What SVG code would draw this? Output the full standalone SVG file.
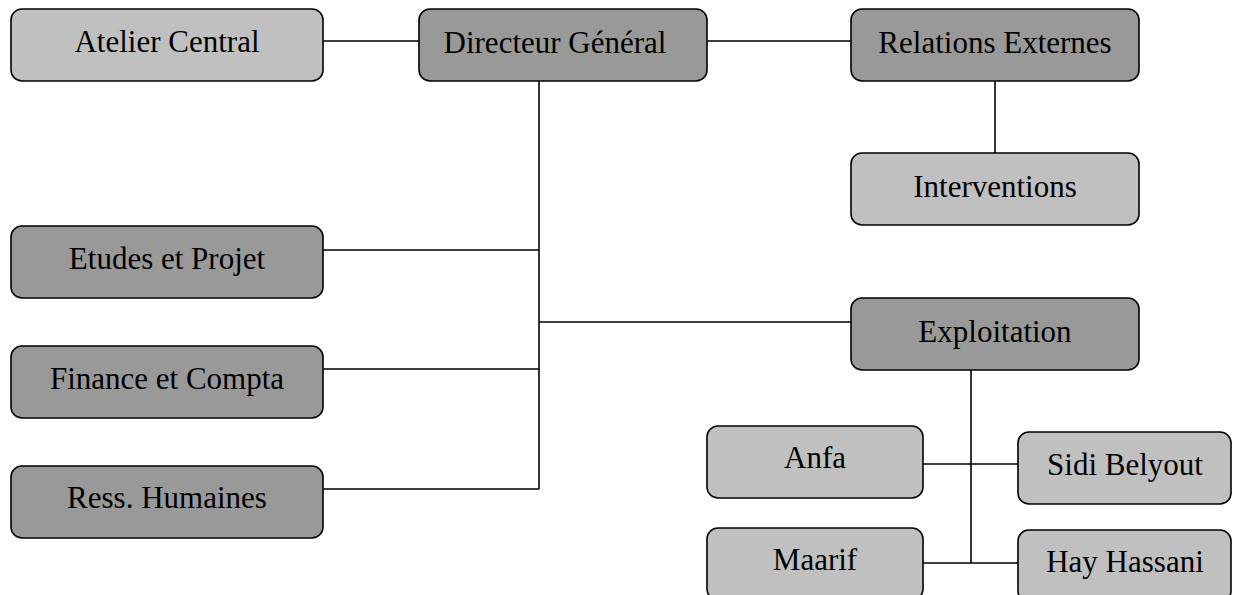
<svg xmlns="http://www.w3.org/2000/svg" width="1233" height="595" viewBox="0 0 1233 595">
  <style>
    .box { stroke: #000; stroke-width: 1.6; }
    .dark { fill: #999999; }
    .light { fill: #c0c0c0; }
    .lbl { font-family: "Liberation Serif", "Times New Roman", serif; font-size: 31px; fill: #000; text-anchor: middle; }
    .wire { stroke: #000; stroke-width: 1.6; fill: none; }
  </style>
  <rect width="1233" height="595" fill="#fff"/>

  <!-- connectors -->
  <g id="connectors">
    <path class="wire" d="M323 41H419M707 41H851"/>
    <path class="wire" d="M539 81V489M323 250H539M323 369H539M323 489H539M539 322H851"/>
    <path class="wire" d="M995 81V153"/>
    <path class="wire" d="M971 370V563M923 464H1018M923 563H1018"/>
  </g>

  <g id="atelier-central">
    <rect class="box light" x="11" y="9" width="312" height="72" rx="11"/>
    <text class="lbl" x="167" y="52">Atelier Central</text>
  </g>
  <g id="directeur-general">
    <rect class="box dark" x="419" y="9" width="288" height="72" rx="11"/>
    <text class="lbl" x="555" y="53">Directeur Général</text>
  </g>
  <g id="relations-externes">
    <rect class="box dark" x="851" y="9" width="288" height="72" rx="11"/>
    <text class="lbl" x="995" y="53">Relations Externes</text>
  </g>
  <g id="interventions">
    <rect class="box light" x="851" y="153" width="288" height="72" rx="11"/>
    <text class="lbl" x="995" y="197">Interventions</text>
  </g>
  <g id="etudes-projet">
    <rect class="box dark" x="11" y="226" width="312" height="72" rx="11"/>
    <text class="lbl" x="167" y="269">Etudes et Projet</text>
  </g>
  <g id="finance-compta">
    <rect class="box dark" x="11" y="346" width="312" height="72" rx="11"/>
    <text class="lbl" x="167" y="389">Finance et Compta</text>
  </g>
  <g id="ress-humaines">
    <rect class="box dark" x="11" y="466" width="312" height="72" rx="11"/>
    <text class="lbl" x="167" y="508">Ress. Humaines</text>
  </g>
  <g id="exploitation">
    <rect class="box dark" x="851" y="298" width="288" height="72" rx="11"/>
    <text class="lbl" x="995" y="342">Exploitation</text>
  </g>
  <g id="anfa">
    <rect class="box light" x="707" y="426" width="216" height="72" rx="11"/>
    <text class="lbl" x="815" y="468">Anfa</text>
  </g>
  <g id="sidi-belyout">
    <rect class="box light" x="1018" y="432" width="213" height="72" rx="11"/>
    <text class="lbl" x="1125" y="475">Sidi Belyout</text>
  </g>
  <g id="maarif">
    <rect class="box light" x="707" y="528" width="216" height="72" rx="11"/>
    <text class="lbl" x="815" y="570">Maarif</text>
  </g>
  <g id="hay-hassani">
    <rect class="box light" x="1018" y="530" width="213" height="72" rx="11"/>
    <text class="lbl" x="1125" y="572">Hay Hassani</text>
  </g>
</svg>
